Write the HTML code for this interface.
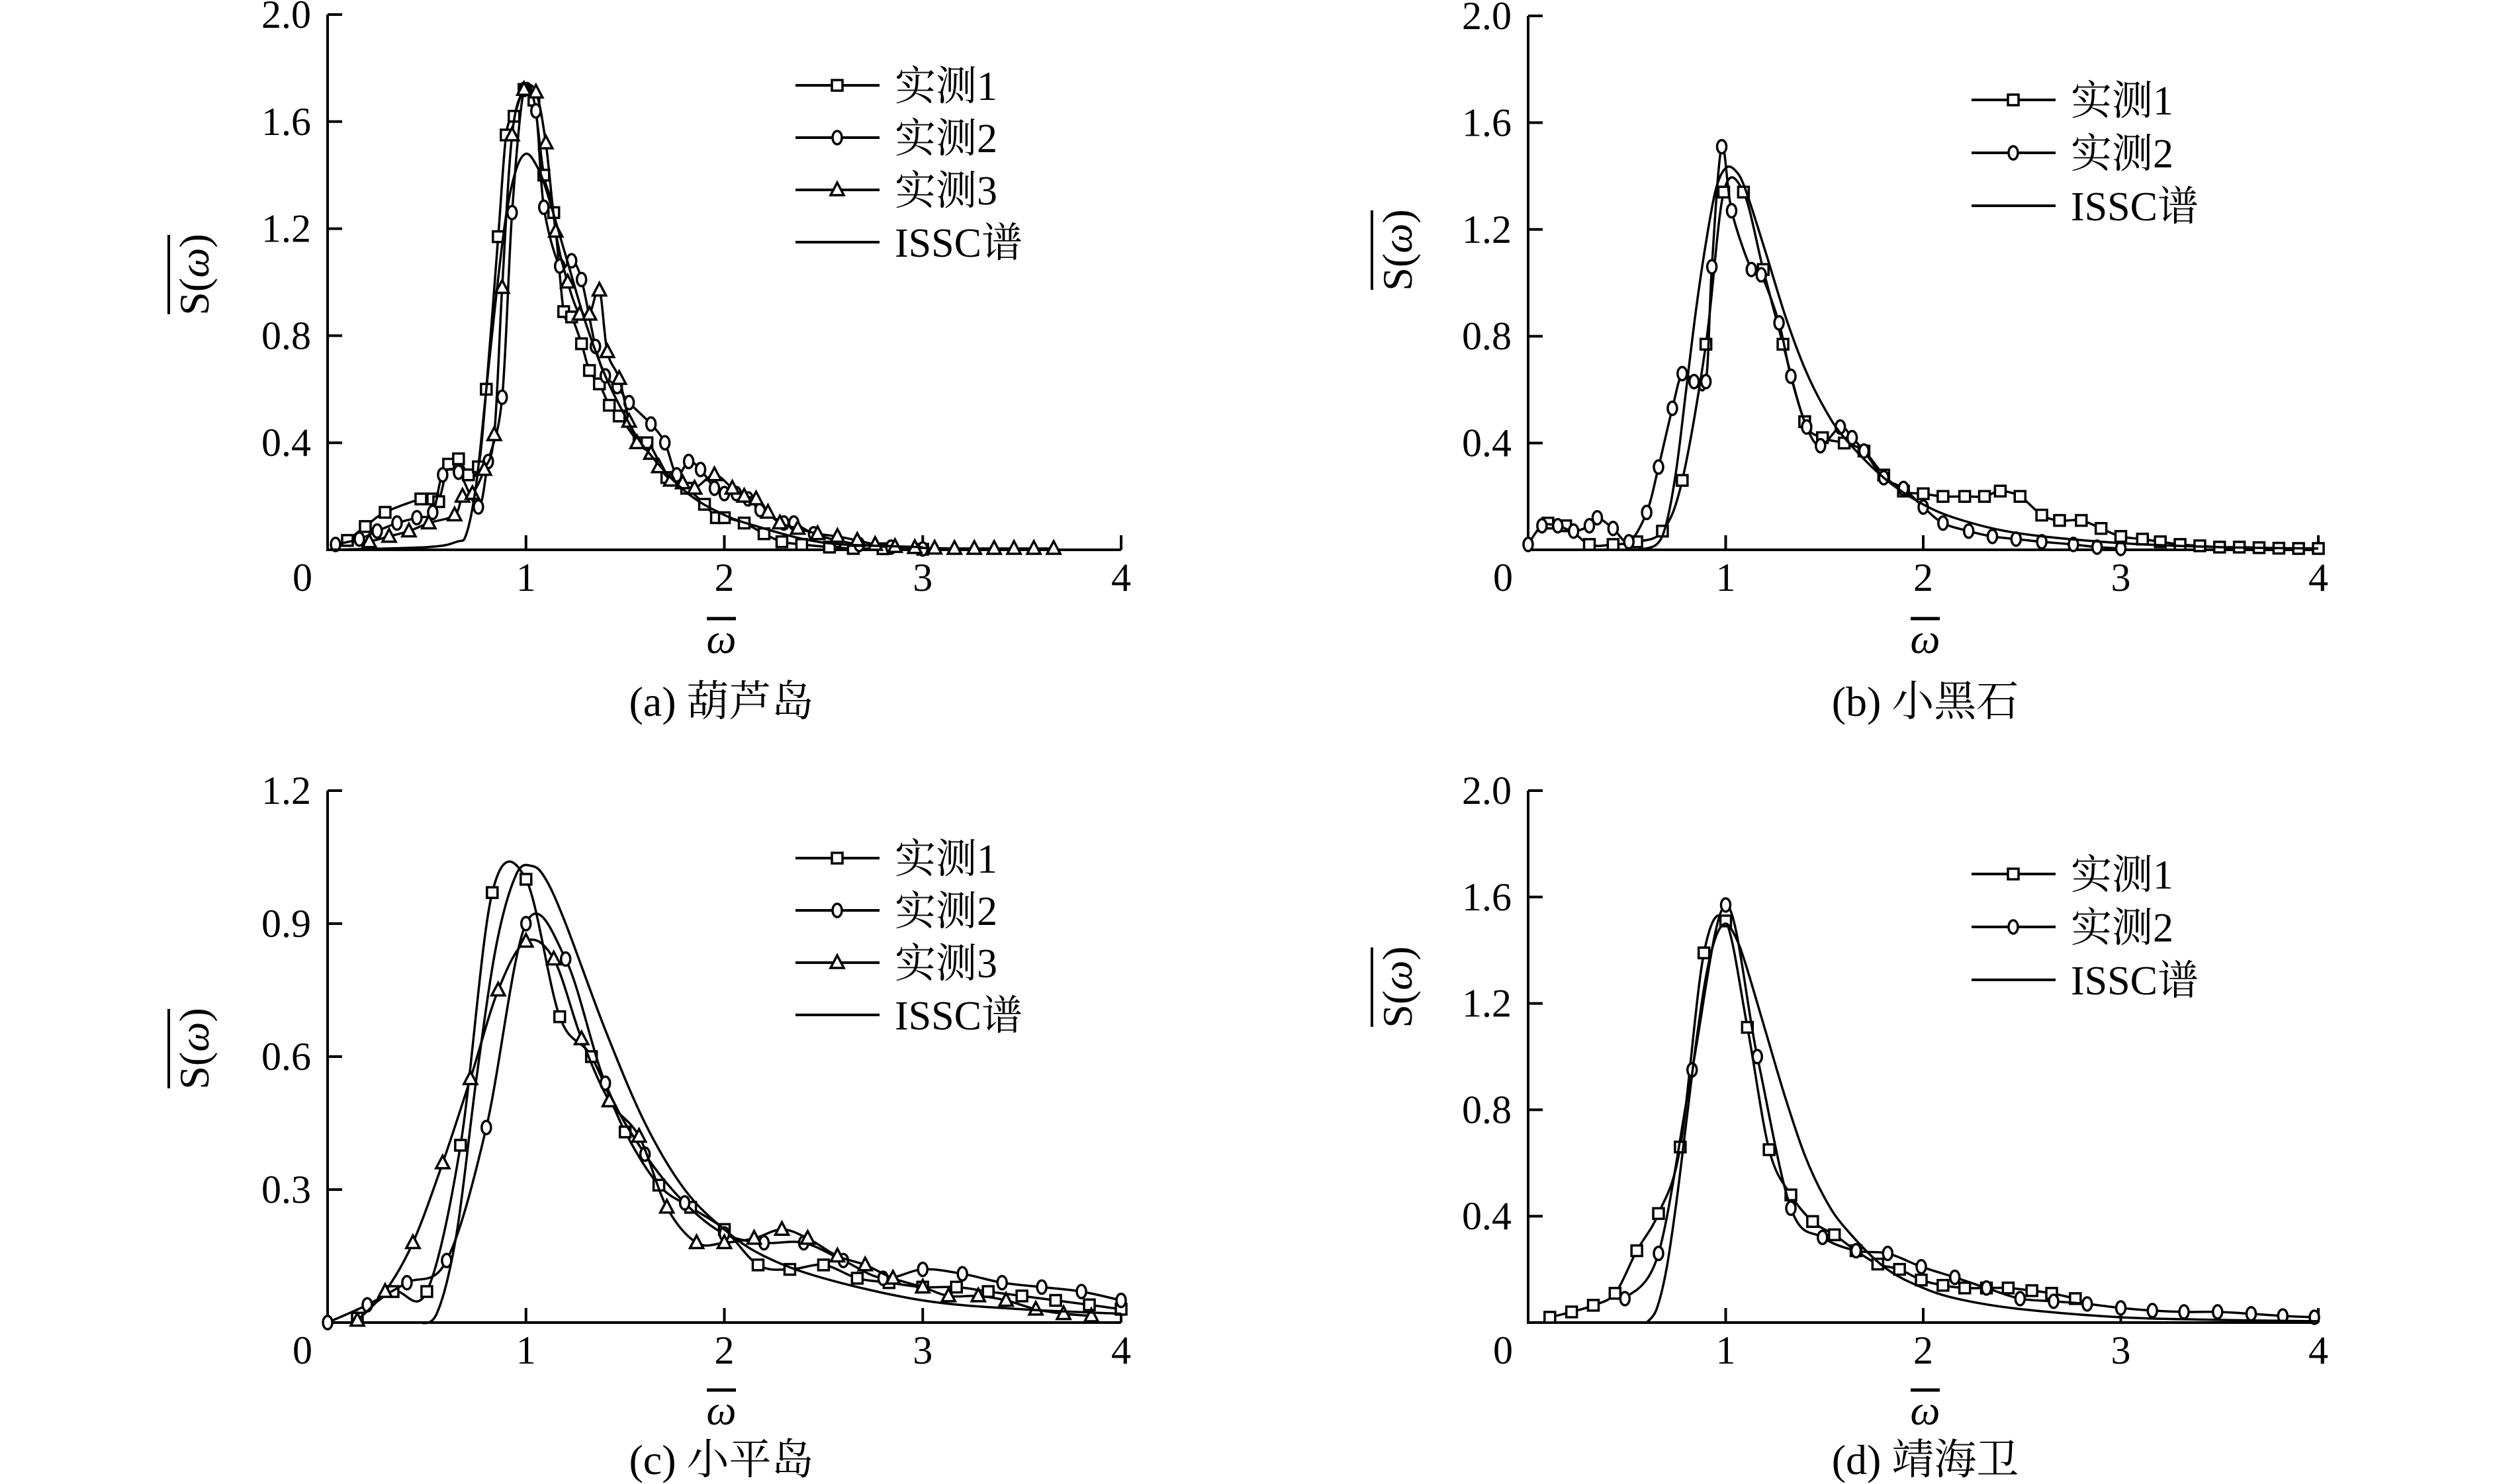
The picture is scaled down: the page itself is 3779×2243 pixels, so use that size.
<!DOCTYPE html>
<html><head><meta charset="utf-8">
<style>
body{margin:0;background:#fff;}
svg{display:block;}
svg text{font-family:"Liberation Serif","DejaVu Serif","Times New Roman","Noto Serif CJK SC",serif;fill:#000;}
</style></head>
<body>
<svg id="fig" width="3779" height="2243" viewBox="0 0 3779 2243" font-family="'Liberation Serif', 'DejaVu Serif', 'Noto Serif CJK SC', serif" xmlns="http://www.w3.org/2000/svg"></svg>
<script>
// ---- Panel (a) 葫芦岛 ----
const aS1w=[0.1,0.19,0.29,0.47,0.53,0.56,0.61,0.66,0.71,0.76,0.8,0.86,0.9,0.94,0.99,1.04,1.09,1.14,1.19,1.23,1.28,1.32,1.37,1.42,1.47,1.57,1.61,1.71,1.81,1.9,1.96,2.0,2.1,2.2,2.29,2.39,2.53,2.65,2.8,3.0];
const aS1v=[0.035,0.087,0.14,0.19,0.19,0.18,0.32,0.34,0.28,0.31,0.6,1.17,1.55,1.62,1.72,1.68,1.4,1.26,0.89,0.87,0.77,0.67,0.62,0.54,0.5,0.4,0.4,0.27,0.23,0.17,0.12,0.12,0.1,0.06,0.03,0.02,0.01,0.005,0.004,0.002];
const aS2w=[0.04,0.16,0.25,0.35,0.45,0.53,0.58,0.66,0.76,0.81,0.88,0.93,0.99,1.05,1.09,1.17,1.23,1.28,1.35,1.4,1.46,1.52,1.63,1.7,1.76,1.82,1.88,1.95,2.0,2.06,2.12,2.18,2.3,2.35,2.45,2.57,2.68,2.84,3.0];
const aS2v=[0.02,0.04,0.07,0.1,0.12,0.14,0.28,0.29,0.16,0.33,0.57,1.26,1.72,1.64,1.28,1.06,1.08,1.01,0.76,0.65,0.61,0.55,0.47,0.4,0.28,0.33,0.3,0.23,0.21,0.21,0.19,0.15,0.1,0.1,0.06,0.035,0.02,0.01,0.003];
const aS3w=[0.21,0.31,0.41,0.51,0.64,0.68,0.73,0.79,0.84,0.88,0.93,0.99,1.05,1.1,1.15,1.21,1.27,1.32,1.37,1.41,1.47,1.52,1.56,1.63,1.67,1.73,1.79,1.85,1.95,2.04,2.1,2.16,2.22,2.28,2.37,2.47,2.57,2.67,2.76,2.86,2.96,3.06,3.16,3.26,3.36,3.46,3.56,3.66];
const aS3v=[0.03,0.05,0.07,0.1,0.13,0.2,0.21,0.3,0.43,0.98,1.55,1.72,1.71,1.52,1.19,1.0,0.88,0.88,0.97,0.74,0.64,0.48,0.4,0.36,0.31,0.26,0.25,0.23,0.28,0.23,0.2,0.19,0.14,0.1,0.08,0.06,0.05,0.035,0.02,0.012,0.008,0.006,0.005,0.005,0.005,0.005,0.005,0.005];
const aIw=[0,0.5,0.65,0.7,0.75,0.8,0.85,0.9,0.95,1.0,1.05,1.1,1.2,1.3,1.4,1.5,1.6,1.8,2.0,2.2,2.4,2.6,3.0];
const aIv=[0,0.01,0.03,0.06,0.25,0.6,0.95,1.25,1.42,1.48,1.44,1.35,1.1,0.85,0.65,0.5,0.38,0.22,0.13,0.08,0.04,0.02,0.01];
// ---- Panel (b) 小黑石 ----
const bS1w=[0.1,0.19,0.31,0.43,0.55,0.68,0.78,0.9,0.99,1.09,1.19,1.29,1.4,1.49,1.6,1.7,1.8,1.9,2.0,2.1,2.21,2.31,2.39,2.49,2.6,2.69,2.8,2.9,3.0,3.11,3.2,3.3,3.4,3.5,3.6,3.7,3.8,3.9,4.0];
const bS1v=[0.1,0.09,0.02,0.02,0.03,0.07,0.26,0.77,1.34,1.34,1.05,0.77,0.48,0.42,0.4,0.37,0.28,0.22,0.21,0.2,0.2,0.2,0.22,0.2,0.13,0.11,0.11,0.08,0.05,0.04,0.03,0.02,0.015,0.01,0.01,0.008,0.006,0.005,0.005];
const bS2w=[0,0.07,0.15,0.23,0.31,0.35,0.43,0.51,0.6,0.66,0.73,0.78,0.84,0.9,0.93,0.98,1.03,1.13,1.18,1.27,1.33,1.41,1.48,1.58,1.64,1.7,1.8,1.9,2.0,2.1,2.23,2.35,2.47,2.6,2.76,2.88,3.0];
const bS2v=[0.02,0.09,0.09,0.07,0.09,0.12,0.08,0.03,0.14,0.31,0.53,0.66,0.63,0.63,1.06,1.51,1.27,1.05,1.03,0.85,0.65,0.46,0.39,0.46,0.42,0.37,0.27,0.23,0.16,0.1,0.07,0.05,0.04,0.03,0.02,0.01,0.005];
const bIw=[0.55,0.65,0.7,0.75,0.8,0.85,0.9,0.95,1.0,1.05,1.1,1.2,1.3,1.4,1.5,1.6,1.8,2.0,2.2,2.5,3.0,3.5,4.0];
const bIv=[0,0.02,0.1,0.3,0.6,0.9,1.15,1.35,1.43,1.42,1.35,1.12,0.88,0.68,0.53,0.42,0.27,0.17,0.11,0.06,0.025,0.01,0.005];
// ---- Panel (c) 小平岛 ----
const cS1w=[0.15,0.33,0.5,0.67,0.83,1.0,1.17,1.33,1.5,1.67,1.83,2.0,2.17,2.33,2.5,2.67,2.83,3.0,3.17,3.33,3.5,3.67,3.84,4.0];
const cS1v=[0.01,0.07,0.07,0.4,0.97,1.0,0.69,0.6,0.43,0.31,0.26,0.21,0.13,0.12,0.13,0.1,0.09,0.08,0.08,0.07,0.06,0.05,0.04,0.03];
const cS2w=[0,0.2,0.4,0.6,0.8,1.0,1.2,1.4,1.6,1.8,2.0,2.2,2.4,2.6,2.8,3.0,3.2,3.4,3.6,3.8,4.0];
const cS2v=[0,0.04,0.09,0.14,0.44,0.9,0.82,0.54,0.38,0.27,0.2,0.18,0.18,0.14,0.1,0.12,0.11,0.09,0.08,0.07,0.05];
const cS3w=[0.15,0.29,0.43,0.58,0.72,0.86,1.0,1.14,1.28,1.42,1.57,1.71,1.86,2.0,2.15,2.29,2.42,2.57,2.71,2.85,3.0,3.13,3.28,3.42,3.57,3.71,3.85];
const cS3v=[0.005,0.07,0.18,0.36,0.55,0.75,0.86,0.82,0.64,0.5,0.42,0.26,0.18,0.18,0.19,0.21,0.19,0.15,0.13,0.1,0.08,0.06,0.06,0.05,0.03,0.02,0.015];
const cIw=[0.45,0.55,0.65,0.75,0.85,0.95,1.03,1.1,1.2,1.4,1.6,1.8,2.0,2.2,2.5,3.0,3.5,4.0];
const cIv=[0,0.02,0.2,0.55,0.85,1.01,1.03,1.0,0.9,0.66,0.45,0.3,0.21,0.15,0.1,0.05,0.03,0.02];
// ---- Panel (d) 靖海卫 ----
const dS1w=[0.11,0.22,0.33,0.44,0.55,0.66,0.77,0.89,1.0,1.11,1.22,1.33,1.44,1.55,1.66,1.77,1.88,1.99,2.1,2.21,2.32,2.43,2.55,2.65,2.77];
const dS1v=[0.02,0.04,0.065,0.11,0.27,0.41,0.66,1.39,1.51,1.11,0.65,0.48,0.38,0.33,0.27,0.22,0.2,0.16,0.14,0.13,0.13,0.13,0.12,0.11,0.09];
const dS2w=[0.49,0.66,0.83,1.0,1.16,1.33,1.49,1.66,1.82,1.99,2.16,2.32,2.49,2.66,2.83,3.0,3.16,3.32,3.49,3.66,3.82,3.98];
const dS2v=[0.09,0.26,0.95,1.57,1.0,0.43,0.32,0.27,0.26,0.21,0.17,0.13,0.09,0.08,0.07,0.055,0.045,0.04,0.04,0.033,0.025,0.02];
const dIw=[0.6,0.65,0.7,0.75,0.8,0.85,0.9,0.95,1.0,1.05,1.1,1.2,1.3,1.4,1.5,1.6,1.8,2.0,2.2,2.5,3.0,3.5,4.0];
const dIv=[0,0.05,0.2,0.45,0.75,1.05,1.3,1.45,1.5,1.45,1.35,1.1,0.85,0.63,0.47,0.36,0.21,0.13,0.085,0.05,0.02,0.01,0.005];
// tick labels
const xTicks=[1,2,3,4];
const yTicksA=[0.4,0.8,1.2,1.6,2.0];
const yTicksC=[0.3,0.6,0.9,1.2];

const NS='http://www.w3.org/2000/svg';
const FONT='font-family:"Liberation Serif","DejaVu Serif","Times New Roman","Noto Serif CJK SC",serif;';
const svg=document.getElementById('fig');
function mk(tag,parent,attrs){const e=document.createElementNS(NS,tag);for(const k in attrs)e.setAttribute(k,attrs[k]);if(tag==='text')e.setAttribute('style',FONT);parent.appendChild(e);return e;}

function smoothPath(pts){
  if(pts.length<2)return '';
  let d='M'+pts[0][0]+','+pts[0][1];
  for(let i=0;i<pts.length-1;i++){
    const p0=pts[Math.max(0,i-1)],p1=pts[i],p2=pts[i+1],p3=pts[Math.min(pts.length-1,i+2)];
    const c1=[p1[0]+(p2[0]-p0[0])/6,p1[1]+(p2[1]-p0[1])/6];
    const c2=[p2[0]-(p3[0]-p1[0])/6,p2[1]-(p3[1]-p1[1])/6];
    d+=' C'+c1[0]+','+c1[1]+' '+c2[0]+','+c2[1]+' '+p2[0]+','+p2[1];
  }
  return d;
}
function marker(g,type,x,y){
  let m;
  if(type==='square'){m=mk('rect',g,{x:x-8,y:y-8,width:16,height:16,fill:'#fff',stroke:'#000','stroke-width':3.5});}
  else if(type==='circle'){m=mk('ellipse',g,{cx:x,cy:y,rx:7,ry:10,fill:'#fff',stroke:'#000','stroke-width':3.5});}
  else {m=mk('polygon',g,{points:(x)+','+(y-11)+' '+(x-10)+','+(y+8)+' '+(x+10)+','+(y+8),fill:'#fff',stroke:'#000','stroke-width':3.5});}
  return m;
}

function panel(cfg){
  const g=mk('g',svg,{});
  
  
  const X=w=>cfg.x0+(cfg.x4-cfg.x0)*w/4;
  const Y=v=>cfg.y0-(cfg.y0-cfg.yTop)*v/cfg.yMax;
  const ax=mk('path',g,{d:'M'+cfg.x0+','+cfg.yTop+' L'+cfg.x0+','+cfg.y0+' L'+cfg.x4+','+cfg.y0,fill:'none',stroke:'#000','stroke-width':4});
  
  
  cfg.yTicks.forEach(t=>{
    mk('line',g,{x1:cfg.x0,x2:cfg.x0+22,y1:Y(t),y2:Y(t),stroke:'#000','stroke-width':4});
    const tl=mk('text',g,{x:cfg.x0-25,y:Y(t)+20,'font-size':60,'text-anchor':'end'});
    tl.textContent=t.toFixed(1);
    
    
  });
  xTicks.forEach(t=>{
    mk('line',g,{x1:X(t),x2:X(t),y1:cfg.y0,y2:cfg.y0-22,stroke:'#000','stroke-width':4});
    const tl=mk('text',g,{x:X(t),y:cfg.y0+62,'font-size':60,'text-anchor':'middle'});
    tl.textContent=String(t);
    
    
  });
  const zl=mk('text',g,{x:cfg.x0-38,y:cfg.y0+62,'font-size':60,'text-anchor':'middle'});
  zl.textContent='0';
  
  
  const types=['square','circle','triangle'];
  cfg.series.forEach((s,i)=>{
    const sg=mk('g',g,{});
    
    
    const pts=s[0].map((w,k)=>[X(w),Y(s[1][k])]);
    mk('path',sg,{d:smoothPath(pts),fill:'none',stroke:'#000','stroke-width':3.5});
    pts.forEach(p=>{const m=marker(sg,types[i],p[0],p[1]);});
  });
  const ipts=cfg.issc[0].map((w,k)=>[X(w),Y(cfg.issc[1][k])]);
  const ip=mk('path',g,{d:smoothPath(ipts),fill:'none',stroke:'#000','stroke-width':3.5});
  
  
  const lg=mk('g',g,{});
  
  
  const labels=cfg.series.map((s,i)=>'实测'+(i+1)).concat(['ISSC谱']);
  labels.forEach((lab,i)=>{
    const y=cfg.legY+i*cfg.legDy;
    const e=mk('g',lg,{});
    
    
    mk('line',e,{x1:cfg.legX,x2:cfg.legX+127,y1:y,y2:y,stroke:'#000','stroke-width':4});
    if(i<cfg.series.length)marker(e,types[i],cfg.legX+63,y);
    const t=mk('text',e,{x:cfg.legX+150,y:y+22,'font-size':62});
    t.textContent=lab;
  });
  const yl=mk('g',g,{transform:'translate('+cfg.ylx+','+cfg.yly+') rotate(-90)'});
  
  
  const yt=mk('text',yl,{x:0,y:22,'font-size':64,'text-anchor':'middle'});
  yt.innerHTML='S(<tspan font-style="italic">ω</tspan>)';
  mk('line',yl,{x1:-60,x2:60,y1:-38,y2:-38,stroke:'#000','stroke-width':4});
  const xl=mk('g',g,{});
  
  
  mk('line',xl,{x1:cfg.xlx-22,x2:cfg.xlx+22,y1:cfg.xly-40,y2:cfg.xly-40,stroke:'#000','stroke-width':5});
  const xt=mk('text',xl,{x:cfg.xlx,y:cfg.xly+12,'font-size':64,'font-style':'italic','text-anchor':'middle'});
  xt.textContent='ω';
  const cap=mk('text',g,{x:cfg.xlx,y:cfg.capY,'font-size':64,'text-anchor':'middle'});
  cap.textContent=cfg.caption;
  
  
}

panel({id:'a',x0:495,x4:1694,y0:831,yTop:22,yMax:2.0,yTicks:yTicksA,
  series:[[aS1w,aS1v],[aS2w,aS2v],[aS3w,aS3v]],issc:[aIw,aIv],
  legX:1202,legY:129,legDy:79,ylx:293,yly:415,xlx:1090,xly:975,capY:1082,caption:'(a) 葫芦岛'});
panel({id:'b',x0:2309,x4:3503,y0:831,yTop:24,yMax:2.0,yTicks:yTicksA,
  series:[[bS1w,bS1v],[bS2w,bS2v]],issc:[bIw,bIv],
  legX:2979,legY:151,legDy:80,ylx:2111,yly:378,xlx:2909,xly:975,capY:1082,caption:'(b) 小黑石'});
panel({id:'c',x0:495,x4:1694,y0:1999,yTop:1195,yMax:1.2,yTicks:yTicksC,
  series:[[cS1w,cS1v],[cS2w,cS2v],[cS3w,cS3v]],issc:[cIw,cIv],
  legX:1202,legY:1297,legDy:79,ylx:293,yly:1585,xlx:1090,xly:2141,capY:2228,caption:'(c) 小平岛'});
panel({id:'d',x0:2309,x4:3503,y0:1999,yTop:1195,yMax:2.0,yTicks:yTicksA,
  series:[[dS1w,dS1v],[dS2w,dS2v]],issc:[dIw,dIv],
  legX:2979,legY:1321,legDy:80,ylx:2111,yly:1492,xlx:2909,xly:2141,capY:2228,caption:'(d) 靖海卫'});
</script>
</body></html>
